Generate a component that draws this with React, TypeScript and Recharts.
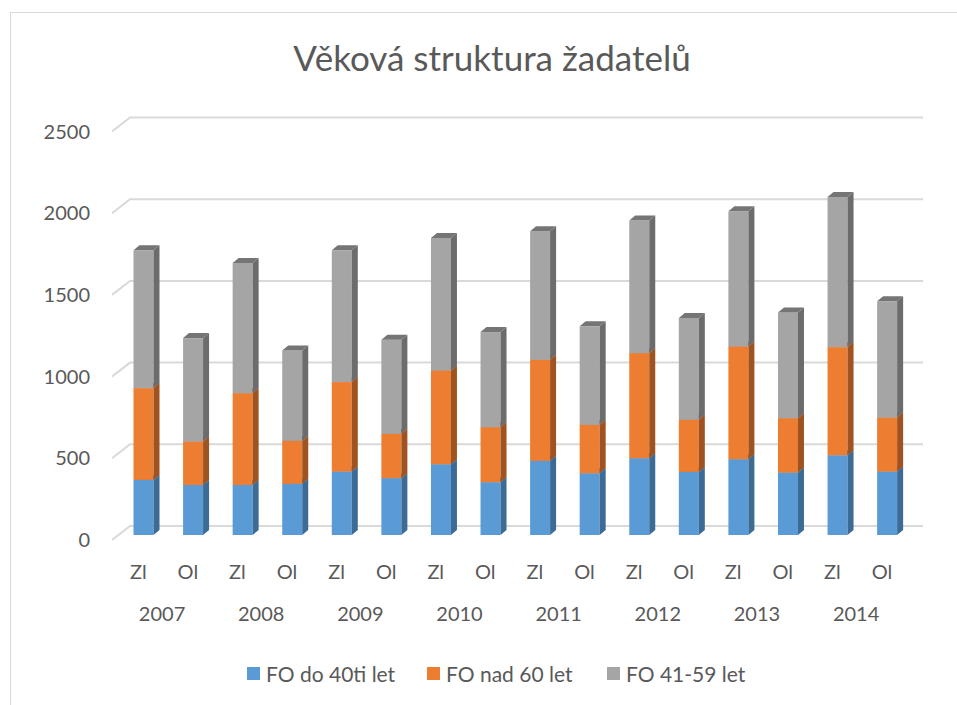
import React from 'react';
import { BarChart, Bar, XAxis, YAxis, CartesianGrid } from 'recharts';

const years = ['2007', '2008', '2009', '2010', '2011', '2012', '2013', '2014'];
const halves = ['Zl', 'Ol'];
const under40 = [337, 306, 306, 313, 388, 348, 433, 323, 454, 378, 470, 386, 464, 382, 488, 388];
const over60 = [562, 266, 562, 263, 548, 271, 574, 337, 618, 296, 643, 319, 690, 333, 662, 331];
const mid4159 = [843, 633, 797, 553, 806, 576, 811, 582, 787, 603, 811, 623, 827, 647, 919, 711];
const yTicks = [0, 500, 1000, 1500, 2000, 2500];

const seriesNames = ['FO do 40ti let', 'FO nad 60 let', 'FO 41-59 let'];
const seriesKeys = ['a', 'b', 'c'];
const frontColors = ['#5B9BD5', '#ED7D31', '#A5A5A5'];
const sideColors = ['#3C6B96', '#9E5320', '#6C6C6C'];
const topColors = ['#4A82B5', '#C2662A', '#757575'];

const data = under40.map((v, i) => ({
  half: halves[i % 2],
  year: years[Math.floor(i / 2)],
  a: v,
  b: over60[i],
  c: mid4159[i],
}));

const W = 957;
const H = 705;
const FONT = 'Lato, "Noto Sans", sans-serif';
const TXT = '#595959';
const DX = 6;
const DY = 5;

const make3D = (si: number) => (props: any) => {
  const { x, y, width, height } = props;
  if (width == null || height == null || height <= 0) return <g />;
  const side = `M${x + width},${y + height} L${x + width + DX},${y + height - DY} L${x + width + DX},${y - DY} L${x + width},${y} Z`;
  const top = `M${x},${y} L${x + DX},${y - DY} L${x + width + DX},${y - DY} L${x + width},${y} Z`;
  return (
    <g>
      <rect x={x} y={y} width={width} height={height} fill={frontColors[si]} />
      <path d={side} fill={sideColors[si]} />
      <path d={top} fill={topColors[si]} />
    </g>
  );
};

const gridLine = (props: any) => {
  const { y1, index } = props;
  const y = y1;
  return (
    <path
      key={`g-${index}-${y}`}
      d={`M112,${y + 5} L130,${y - 9} L923,${y - 9}`}
      fill="none"
      stroke="#D9D9D9"
      strokeWidth={2}
    />
  );
};

const YTick = (props: any) => {
  const { y, payload } = props;
  return (
    <text x={90} y={y + 4} textAnchor="end" dominantBaseline="central" fontFamily={FONT} fontSize={20} fill={TXT}>
      {payload.value}
    </text>
  );
};

const HalfTick = (props: any) => {
  const { x, payload } = props;
  return (
    <text x={x - 5} y={571} textAnchor="middle" dominantBaseline="central" fontFamily={FONT} fontSize={20} fill={TXT}>
      {payload.value}
    </text>
  );
};

const BAND = (911.7 - 118.5) / 16;

const YearTick = (props: any) => {
  const { x, payload, index } = props;
  if (index % 2 !== 0) return <g />;
  return (
    <text x={x + BAND / 2 - 6} y={613} textAnchor="middle" dominantBaseline="central" fontFamily={FONT} fontSize={20} fill={TXT}>
      {payload.value}
    </text>
  );
};

const legendX = [247, 427, 607];

export default function App() {
  return (
    <div style={{ position: 'absolute', left: 0, top: 0, width: W, height: H, overflow: 'hidden', background: '#fff' }}>
      <div
        style={{
          position: 'absolute',
          left: 10,
          top: 12,
          width: 1000,
          height: 800,
          borderLeft: '1px solid #D9D9D9',
          borderTop: '1px solid #D9D9D9',
        }}
      />
      <div style={{ position: 'absolute', left: 0, top: 0 }}>
        <BarChart
          width={W}
          height={H}
          data={data}
          margin={{ top: 126.5, right: W - 911.7, bottom: 100, left: 18.5 }}
        >
          <text x={492} y={57} textAnchor="middle" dominantBaseline="central" fontFamily={FONT} fontSize={35} fill={TXT}>
            Věková struktura žadatelů
          </text>
          <CartesianGrid vertical={false} horizontal={gridLine} />
          <YAxis
            width={100}
            domain={[0, 2500]}
            ticks={yTicks}
            axisLine={false}
            tickLine={false}
            tick={YTick}
            interval={0}
          />
          <XAxis dataKey="half" height={30} axisLine={false} tickLine={false} tick={HalfTick} interval={0} />
          <XAxis xAxisId="yr" dataKey="year" height={40} axisLine={false} tickLine={false} tick={YearTick} interval={0} />
          {seriesKeys.map((k, i) => (
            <Bar
              key={k}
              dataKey={k}
              name={seriesNames[i]}
              stackId="s"
              barSize={20}
              fill={frontColors[i]}
              shape={make3D(i)}
              isAnimationActive={false}
            />
          ))}
        </BarChart>
      </div>
      {seriesNames.map((n, i) => (
        <div
          key={n}
          style={{
            position: 'absolute',
            left: legendX[i],
            top: 659,
            height: 28,
            display: 'flex',
            alignItems: 'center',
            fontFamily: FONT,
            fontSize: 21,
            color: TXT,
            whiteSpace: 'nowrap',
          }}
        >
          <span style={{ display: 'inline-block', width: 13, height: 13, background: frontColors[i], marginRight: 6 }} />
          {n}
        </div>
      ))}
    </div>
  );
}
